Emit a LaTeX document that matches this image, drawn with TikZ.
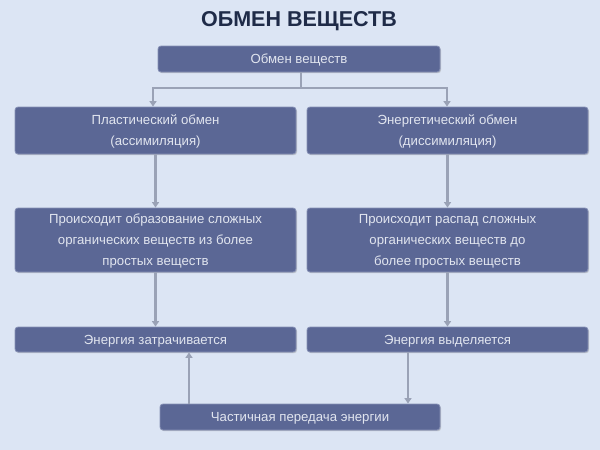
\documentclass[tikz,border=0pt]{standalone}
\usepackage{fontspec}
\setmainfont{Liberation Sans}
\usetikzlibrary{arrows.meta,shadows}
\definecolor{bg}{HTML}{DCE5F4}
\definecolor{boxfill}{HTML}{5B6795}
\definecolor{boxedge}{HTML}{8690B5}
\definecolor{boxtext}{HTML}{E1E5EF}
\definecolor{arrowc}{HTML}{9AA2B6}
\definecolor{titlec}{HTML}{1F2B48}
\tikzset{
  blk/.style={rectangle, rounded corners=3pt, fill=boxfill, draw=boxedge, line width=0.8pt,
    text=boxtext, font=\fontsize{13.2}{21}\selectfont, align=center, inner sep=0pt, text depth=0pt,
    drop shadow={shadow xshift=1pt, shadow yshift=-1.2pt, opacity=0.35}},
  arr/.style={draw=arrowc, line width=2.2pt, -{Triangle[width=7pt,length=5.5pt]}},
  ln/.style={draw=arrowc, line width=2.2pt}
}
\begin{document}
\begin{tikzpicture}[x=1pt,y=-1pt]
\useasboundingbox (0,0) rectangle (600,450);
\fill[bg] (0,0) rectangle (600,450);
\node[font=\fontsize{21.5}{24}\bfseries, text=titlec] (title) at (299,21) {ОБМЕН ВЕЩЕСТВ};
\node[blk, minimum width=282pt, minimum height=26pt] (b1) at (299,59) {Обмен веществ};
\node[blk, minimum width=281pt, minimum height=47pt] (b2l) at (155.5,130.5) {Пластический обмен\\(ассимиляция)};
\node[blk, minimum width=281pt, minimum height=47pt] (b2r) at (447.5,130.5) {Энергетический обмен\\(диссимиляция)};
\node[blk, minimum width=281pt, minimum height=64pt] (b3l) at (155.5,240) {Происходит образование сложных\\органических веществ из более\\простых веществ};
\node[blk, minimum width=281pt, minimum height=64pt] (b3r) at (447.5,240) {Происходит распад сложных\\органических веществ до\\более простых веществ};
\node[blk, minimum width=281pt, minimum height=25pt] (b4l) at (155.5,339.5) {Энергия затрачивается};
\node[blk, minimum width=281pt, minimum height=25pt] (b4r) at (447.5,339.5) {Энергия выделяется};
\node[blk, minimum width=280pt, minimum height=26pt] (b5) at (300,417) {Частичная передача энергии};
\coordinate (j) at (301,88);
\coordinate (upx) at (189,0);
\coordinate (dnx) at (408,0);
\draw[ln] (b1.south -| j) -- (j);
\draw[arr] (j) -| (b2l.north -| 153,0);
\draw[arr] (j) -| (b2r.north -| 447,0);
\draw[arr] (b2l) -- (b3l);
\draw[arr] (b2r) -- (b3r);
\draw[arr] (b3l) -- (b4l);
\draw[arr] (b3r) -- (b4r);
\draw[arr] (b5.north -| upx) -- (b4l.south -| upx);
\draw[arr] (b4r.south -| dnx) -- (b5.north -| dnx);
\end{tikzpicture}
\end{document}
